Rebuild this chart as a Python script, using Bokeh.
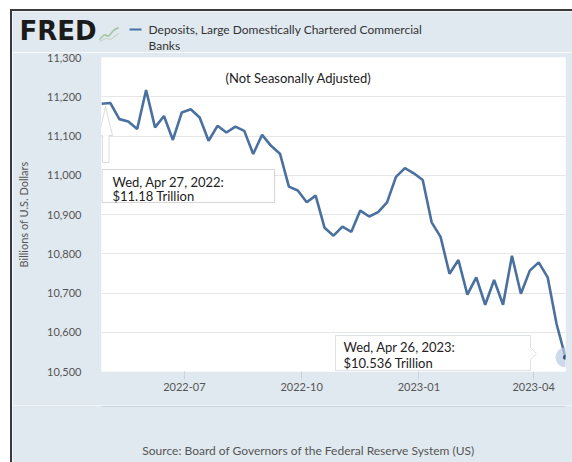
import pandas as pd
from bokeh.plotting import figure
from bokeh.layouts import column
from bokeh.models import (ColumnDataSource, FixedTicker, Label, PolyAnnotation, Arrow,
                          DatetimeTickFormatter, NumeralTickFormatter, Range1d)
from bokeh.embed import file_html
from bokeh.resources import INLINE

# ---------------- data ----------------
series_name = "Deposits, Large Domestically Chartered Commercial"
series_name2 = "Banks"
start_date = "2022-04-27"          # first Wednesday observation (weekly)
deposits = [11182, 11184, 11143, 11137, 11118, 11217, 11122, 11151, 11090, 11160,
            11168, 11147, 11088, 11126, 11109, 11124, 11113, 11054, 11103, 11075,
            11055, 10971, 10961, 10931, 10948, 10866, 10846, 10869, 10856, 10910,
            10895, 10906, 10931, 10996, 11018, 11005, 10988, 10880, 10843, 10749,
            10784, 10696, 10740, 10670, 10733, 10670, 10795, 10698, 10757, 10778,
            10740, 10621, 10536]
x_tick_labels = ["2022-07", "2022-10", "2023-01", "2023-04"]
y_ticks = [10500, 10600, 10700, 10800, 10900, 11000, 11100, 11200, 11300]
note_text = "(Not Seasonally Adjusted)"
callout1 = ["Wed, Apr 27, 2022:", "$11.18 Trillion"]
callout2 = ["Wed, Apr 26, 2023:", "$10.536 Trillion"]
source_text = "Source: Board of Governors of the Federal Reserve System (US)"

dates = pd.date_range(start_date, periods=len(deposits), freq="7D")
src = ColumnDataSource(dict(date=dates, value=deposits))
x_ticks = [pd.Timestamp(s + "-01").value // 10**6 for s in x_tick_labels]

BG = "#e1e9f0"
LINE = "#4a70a0"
W = 560
PX0 = 12            # page x of canvas left
H_HDR, H_MAIN, H_FTR = 41, 353, 57
Y_HDR = 11
Y_MAIN = Y_HDR + H_HDR
Y_FTR = Y_MAIN + H_MAIN


def deco_fig(h, y0):
    f = figure(width=W, height=h, x_range=Range1d(PX0, PX0 + W), y_range=Range1d(y0 + h, y0),
               min_border=0, x_axis_location=None, y_axis_location=None,
               toolbar_location=None, output_backend="svg", frame_align=False,
               background_fill_color=BG, border_fill_color=BG, outline_line_color=None)
    f.grid.visible = False
    return f


def dlab(text, px, py, size, color="#333333", font="Lato", align="left", style="normal"):
    return Label(x=px, y=py, text=text, text_font=font, text_font_size=f"{size}px",
                 text_color=color, text_align=align, text_baseline="middle",
                 text_font_style=style)


def dline(x0, y0, x1, y1, color, lw):
    return Arrow(end=None, x_start=x0, y_start=y0, x_end=x1, y_end=y1,
                 line_color=color, line_width=lw)


# ---------------- header ----------------
hdr = deco_fig(H_HDR, Y_HDR)
hdr.add_layout(dlab("FRED", 19, 30, 26, color="#1b1b1b", font="DejaVu Sans", style="bold"))
for (a, b), (c, d) in [((99, 39), (104, 34)), ((104, 34), (108, 36)), ((108, 36), (113, 30)),
                       ((113, 30), (118, 27))]:
    hdr.add_layout(dline(a, b, c, d, "#9fc39a", 1.5))
for (a, b), (c, d) in [((99, 41), (105, 38)), ((105, 38), (110, 39)), ((110, 39), (118, 33))]:
    hdr.add_layout(dline(a, b, c, d, "#c7d3c4", 1.2))
hdr.add_layout(dline(129, 29, 141, 29, "#4572a7", 2))
hdr.add_layout(dlab(series_name, 148, 29, 12))
hdr.add_layout(dlab(series_name2, 148, 45, 12))

# ---------------- main chart ----------------
p = figure(width=W, height=H_MAIN, x_axis_type="datetime", output_backend="svg",
           toolbar_location=None, frame_align=False,
           x_range=Range1d(dates[0], dates[-1]), y_range=Range1d(y_ticks[0], y_ticks[-1]),
           min_border_left=101 - PX0, min_border_right=PX0 + W - 565,
           min_border_top=57 - Y_MAIN, min_border_bottom=Y_FTR - 371,
           background_fill_color="white", border_fill_color=BG, outline_line_color=None)

p.line(x="date", y="value", source=src, line_color=LINE, line_width=2.6)
p.scatter(x=[dates[-1]], y=[deposits[-1]], size=20, fill_color="#b9cbe0",
          fill_alpha=0.7, line_color=None)
p.scatter(x=[dates[-1]], y=[deposits[-1]], size=5, fill_color="#2c5080", line_color=None)

yax = p.yaxis[0]
yax.ticker = FixedTicker(ticks=y_ticks)
yax.formatter = NumeralTickFormatter(format="0,0")
yax.axis_line_color = None
yax.major_tick_line_color = None
yax.minor_tick_line_color = None
yax.major_label_standoff = 14
yax.major_label_text_font = "Lato"
yax.major_label_text_font_size = "11px"
yax.major_label_text_color = "#555555"
yax.axis_label = "Billions of U.S. Dollars"
yax.axis_label_text_font = "Lato"
yax.axis_label_text_font_size = "11px"
yax.axis_label_text_font_style = "normal"
yax.axis_label_text_color = "#555555"
yax.axis_label_standoff = 14

xax = p.xaxis[0]
xax.ticker = FixedTicker(ticks=x_ticks)
xax.formatter = DatetimeTickFormatter(days="%Y-%m", months="%Y-%m", years="%Y-%m")
xax.axis_line_color = None
xax.major_tick_line_color = "#c8d2dc"
xax.major_tick_out = 8
xax.major_tick_in = 0
xax.minor_tick_line_color = None
xax.major_label_standoff = 3
xax.major_label_text_font = "Lato"
xax.major_label_text_font_size = "11px"
xax.major_label_text_color = "#555555"

p.ygrid.grid_line_color = "#e6e6e6"
p.xgrid.visible = False

FL, FB = 101, 371


def lab(text, px, py, size, color="#222222", align="left"):
    return Label(x=px - FL, y=FB - py, x_units="screen", y_units="screen", text=text,
                 text_font="Lato", text_font_size=f"{size}px", text_color=color,
                 text_align=align, text_baseline="middle")


def poly(pts, fill, line, alpha=1.0, lw=1.0):
    return PolyAnnotation(xs=[x - FL for x, _ in pts], ys=[FB - y for _, y in pts],
                          xs_units="screen", ys_units="screen", fill_color=fill,
                          fill_alpha=alpha, line_color=line, line_width=lw)


p.add_layout(lab(note_text, 298, 77, 13, align="center"))
# hollow up-arrow
p.add_layout(poly([(105, 106), (112, 135), (108.5, 135), (108.5, 162), (102, 162),
                   (102, 135), (98.5, 135)], "white", "#8a8a8a"))
# callout 1
p.add_layout(poly([(101.5, 169), (274, 169), (274, 202), (101.5, 202)], "white", "#7c7c7c", lw=1.2))
p.add_layout(lab(callout1[0], 112, 181, 13))
p.add_layout(lab(callout1[1], 112, 195, 13))
# callout 2
p.add_layout(poly([(335, 335), (530, 335), (530, 347), (536, 353), (530, 359), (530, 370),
                   (335, 370)], "white", "#8fa0b4", alpha=0.92))
p.add_layout(lab(callout2[0], 343, 346, 13))
p.add_layout(lab(callout2[1], 343, 362, 13))

# ---------------- footer ----------------
ftr = deco_fig(H_FTR, Y_FTR)
ftr.add_layout(dline(101, Y_FTR + 1, 565, Y_FTR + 1, "#cbd5df", 1))
ftr.add_layout(dlab(source_text, 308, 450, 12, color="#555555", align="center"))

page = column(hdr, p, ftr, spacing=0, margin=(9, 0, 0, 10),
              styles={"border-style": "solid none none solid", "border-width": "2px 0px 0px 2px",
                      "border-color": "#3a3a3a"})

open("out.html", "w").write(file_html(page, INLINE))
